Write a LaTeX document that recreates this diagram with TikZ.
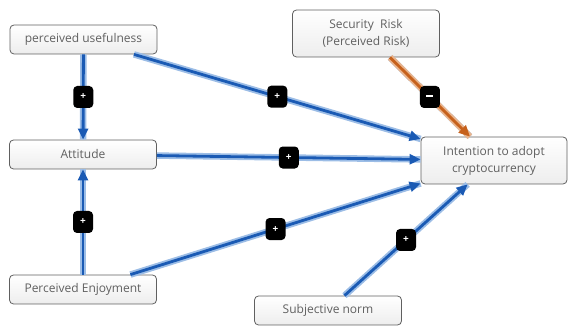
\documentclass[tikz,border=0pt]{standalone}
\usepackage{fontspec}
\setmainfont{Open Sans}
\usepackage{xcolor}
\usetikzlibrary{arrows.meta}
\definecolor{linkblue}{HTML}{1A5AB4}
\definecolor{haloblue}{HTML}{9CBDE6}
\definecolor{riskorange}{HTML}{C6611C}
\definecolor{haloorange}{HTML}{E9B58E}
\definecolor{boxtext}{HTML}{606060}
\tikzset{
  factor/.style = {draw=gray!75!black, line width=0.8pt, rounded corners=4pt,
    top color=white, bottom color=gray!14, text=boxtext, align=center,
    minimum width=147pt, minimum height=29pt, inner sep=2pt,
    font=\fontsize{12}{17}\selectfont},
  link/.style = {draw=linkblue, line width=2.8pt,
    -{Triangle[length=11pt,width=10pt]},
    preaction={draw=haloblue, line width=6.5pt, -}},
  risklink/.style = {link, draw=riskorange,
    preaction={draw=haloorange, line width=6.5pt, -}},
  badge/.style = {fill=black, rounded corners=4pt, text=white,
    minimum width=20pt, minimum height=22pt, inner sep=0pt,
    font=\bfseries\fontsize{10}{10}\selectfont}
}
\begin{document}
\begin{tikzpicture}[x=1pt,y=1pt]
  \useasboundingbox (0,0) rectangle (568,329);

  \node[factor] (pu)  at (83.5,289.5) {perceived usefulness};
  \node[factor] (att) at (83,174.5) {Attitude};
  \node[factor] (pe)  at (83,39.5) {Perceived Enjoyment};
  \node[factor, minimum height=47pt] (sr) at (366,295.5) {Security~ Risk\\(Perceived Risk)};
  \node[factor, minimum width=146pt, minimum height=47pt] (int) at (494,168.5) {Intention to adopt\\cryptocurrency};
  \node[factor] (sn)  at (328,18.5) {Subjective norm};

  \foreach \from/\to in {pu/att, pu/int, att/int, pe/att, pe/int, sn/int}{
    \draw[link] (\from) -- (\to) node[midway, badge] {+};
  }

  \draw[risklink] (sr) -- (int) node[midway, badge] {\rule[0.3ex]{7pt}{1.8pt}};

\end{tikzpicture}
\end{document}
